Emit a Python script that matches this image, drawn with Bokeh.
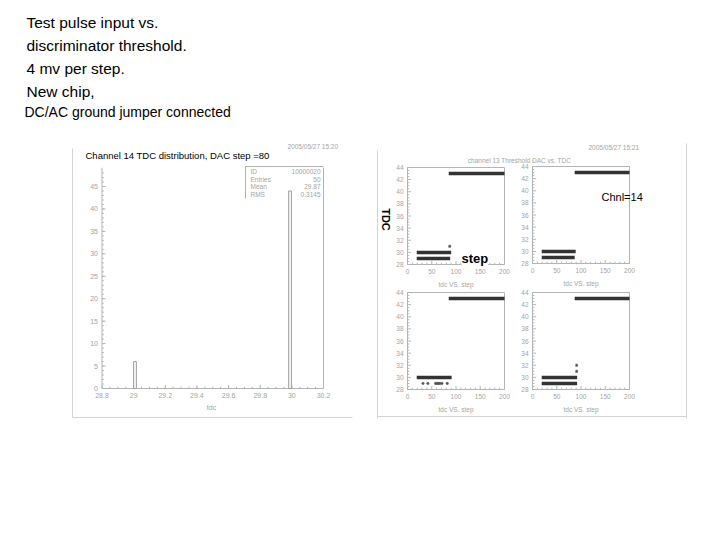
import math
import numpy as np
from bokeh.plotting import figure
from bokeh.models import Range1d, Label
from bokeh.embed import file_html
from bokeh.resources import INLINE
from bokeh.core.properties import value

# ---------------- data ----------------
title_lines = ["Test pulse input vs.", "discriminator threshold.", "4 mv per step.", "New chip,"]
subtitle = "DC/AC ground jumper connected"

hist_title = "Channel 14 TDC distribution, DAC step =80"
hist_date = "2005/05/27  15:20"
hist_bin_left = [29.0, 29.98]
hist_bin_right = [29.017, 29.997]
hist_counts = [6, 44]
hist_xticks = [28.8, 29.0, 29.2, 29.4, 29.6, 29.8, 30.0, 30.2]
hist_xlabels = ["28.8", "29", "29.2", "29.4", "29.6", "29.8", "30", "30.2"]
hist_yticks = [0, 5, 10, 15, 20, 25, 30, 35, 40, 45]
hist_ylabels = ["0", "5", "10", "15", "20", "25", "30", "35", "40", "45"]
hist_xlabel = "tdc"
stats_names = ["ID", "Entries", "Mean", "RMS"]
stats_values = ["10000020", "50", "29.87", "0.3145"]

scan_title = "channel 13 Threshold DAC vs. TDC"
scan_date = "2005/05/27  15:21"
scan_xlabel = "tdc VS. step"
scan_xticks = [0, 50, 100, 150, 200]
scan_xlabels = ["0", "50", "100", "150", "200"]
scan_yticks = [28, 30, 32, 34, 36, 38, 40, 42, 44]
scan_ylabels = ["28", "30", "32", "34", "36", "38", "40", "42", "44"]
# four panels: top-left, top-right, bottom-left, bottom-right
run_tdc = [[43, 30, 29], [43, 30, 29], [43, 30], [43, 30, 29]]
run_from = [[85, 19, 19], [87, 19, 19], [85, 19], [87, 19, 19]]
run_to = [[200, 90, 88], [200, 89, 87], [200, 91], [200, 92, 92]]
pt_step = [[87], [], [32, 42, 58, 61, 64, 67, 71, 82], [91, 91]]
pt_tdc = [[31], [], [29, 29, 29, 29, 29, 29, 29, 29], [32, 31]]

# ---------------- layout (page pixels) ----------------
X0, X1, Y0, Y1 = 0, 704, 0, 524
FONT = "Liberation Sans"
AX = "#b4b4b4"
LAB = "#a4a4a4"

p = figure(width=704, height=524, output_backend="svg", toolbar_location=None,
           x_range=Range1d(X0, X1), y_range=Range1d(Y1, Y0),
           x_axis_location=None, y_axis_location=None, min_border=0,
           background_fill_color="white", border_fill_color="white")
p.outline_line_color = None
p.grid.visible = False


def xr(d0, d1, p0, p1):
    s = (d1 - d0) / (p1 - p0)
    return Range1d(d0 - (p0 - X0) * s, d0 + (X1 - p0) * s)


def yr(d0, d1, q0, q1):
    s = (d1 - d0) / (q0 - q1)
    return Range1d(d0 - (Y1 - q0) * s, d0 + (q0 - Y0) * s)


def txt(x, y, t, size, color="black", align="left", baseline="middle", style="normal", angle=0.0, bg=None):
    lab = Label(x=x, y=y, text=t, text_font=FONT, text_font_size=size, text_color=color,
                text_align=align, text_baseline=baseline, text_font_style=style, angle=angle)
    if bg is not None:
        lab.background_fill_color = bg
    p.add_layout(lab)


def axes(xn, yn, xlo, xhi, ylo, yhi, xmaj, xlab, xminor, ymaj, ylab, yminor, fs, top=True, majlen=3.5, minlen=1.8):
    kw = dict(x_range_name=xn, y_range_name=yn)
    sx0 = [xlo, xlo, xhi] + ([xlo] if top else [])
    sy0 = [ylo, ylo, ylo] + ([yhi] if top else [])
    sx1 = [xlo, xhi, xhi] + ([xhi] if top else [])
    sy1 = [yhi, ylo, yhi] + ([yhi] if top else [])
    p.segment(sx0, sy0, sx1, sy1, line_color=AX, line_width=1, **kw)
    p.ray(x=[xlo] * len(ymaj), y=ymaj, length=majlen, length_units="screen", angle=0,
          line_color=AX, line_width=1, **kw)
    p.ray(x=[xlo] * len(yminor), y=yminor, length=minlen, length_units="screen", angle=0,
          line_color=AX, line_width=1, **kw)
    p.ray(x=xmaj, y=[ylo] * len(xmaj), length=majlen, length_units="screen", angle=math.pi / 2,
          line_color=AX, line_width=1, **kw)
    p.ray(x=xminor, y=[ylo] * len(xminor), length=minlen, length_units="screen", angle=math.pi / 2,
          line_color=AX, line_width=1, **kw)
    p.text(x=[xlo] * len(ymaj), y=ymaj, text=ylab, x_offset=-4, text_align="right",
           text_baseline="middle", text_font=value(FONT), text_font_size=value(fs),
           text_color=LAB, **kw)
    p.text(x=xmaj, y=[ylo] * len(xmaj), text=xlab, y_offset=4, text_align="center",
           text_baseline="top", text_font=value(FONT), text_font_size=value(fs),
           text_color=LAB, **kw)


# ---------------- slide text ----------------
for i, t in enumerate(title_lines):
    txt(26, 22 + 23 * i, t, "15.5px")
txt(24, 111, subtitle, "14px")

# ---------------- left panel: histogram ----------------
p.segment([72, 72], [148, 417], [72, 352], [417, 417], line_color="#d4d4d4", line_width=1)
txt(85, 155, hist_title, "9.5px")
txt(287, 146, hist_date, "6.5px", color=LAB)

p.extra_x_ranges["hx"] = xr(28.8, 30.2, 101.5, 323)
p.extra_y_ranges["hy"] = yr(0, 45, 388, 186)
HY_TOP = 49.2
axes("hx", "hy", 28.8, 30.2, 0, HY_TOP, hist_xticks, hist_xlabels,
     list(np.arange(28.85, 30.2, 0.05)), hist_yticks, hist_ylabels,
     list(range(1, 49)), "7px", top=False)
p.quad(left=hist_bin_left, right=hist_bin_right, bottom=[0, 0], top=hist_counts,
       fill_color="white", line_color="#9a9a9a", line_width=1,
       x_range_name="hx", y_range_name="hy")
txt(211, 407, hist_xlabel, "7px", color=LAB, align="center")

# stats box
p.segment([245, 245], [166, 166], [245, 323], [198, 166], line_color=AX, line_width=1)
for i, (n, v) in enumerate(zip(stats_names, stats_values)):
    txt(250, 171 + 7.7 * i, n, "6.5px", color=LAB)
    txt(320, 171 + 7.7 * i, v, "6.5px", color=LAB, align="right")

# ---------------- right panel: 4 scans ----------------
p.segment([377, 686, 377], [150, 143, 416], [377, 686, 686], [418, 418, 416],
          line_color="#d4d4d4", line_width=1)
txt(519, 160, scan_title, "6.5px", color=LAB, align="center")
txt(588, 147, scan_date, "6.5px", color=LAB)

boxes = [(407, 504, 264, 167), (532, 629, 263, 166), (407, 504, 389, 292), (532, 629, 389, 292)]
for k, (px0, px1, py0, py1) in enumerate(boxes):
    xn, yn = "sx%d" % k, "sy%d" % k
    p.extra_x_ranges[xn] = xr(0, 200, px0, px1)
    p.extra_y_ranges[yn] = yr(28, 44, py0, py1)
    axes(xn, yn, 0, 200, 28, 44, scan_xticks, scan_xlabels,
         [v for v in range(10, 200, 10) if v % 50], scan_yticks, scan_ylabels,
         [v / 2 for v in range(57, 88) if v % 4], "6.5px")
    p.segment(x0=run_from[k], y0=run_tdc[k], x1=run_to[k], y1=run_tdc[k],
              line_color="#333333", line_width=3.5,
              x_range_name=xn, y_range_name=yn)
    if pt_step[k]:
        p.scatter(x=pt_step[k], y=pt_tdc[k], marker="asterisk", size=3,
                  line_color="#555555", line_width=1, x_range_name=xn, y_range_name=yn)
    txt((px0 + px1) / 2, py0 + 20, scan_xlabel, "6.5px", color=LAB, align="center")

# overlay labels
txt(385, 219, "TDC", "11px", style="bold", align="center", angle=-math.pi / 2)
txt(461, 258, "step", "13px", style="bold", bg="white")
txt(601, 196, "Chnl=14", "11px")

open("out.html", "w").write(file_html(p, INLINE))
